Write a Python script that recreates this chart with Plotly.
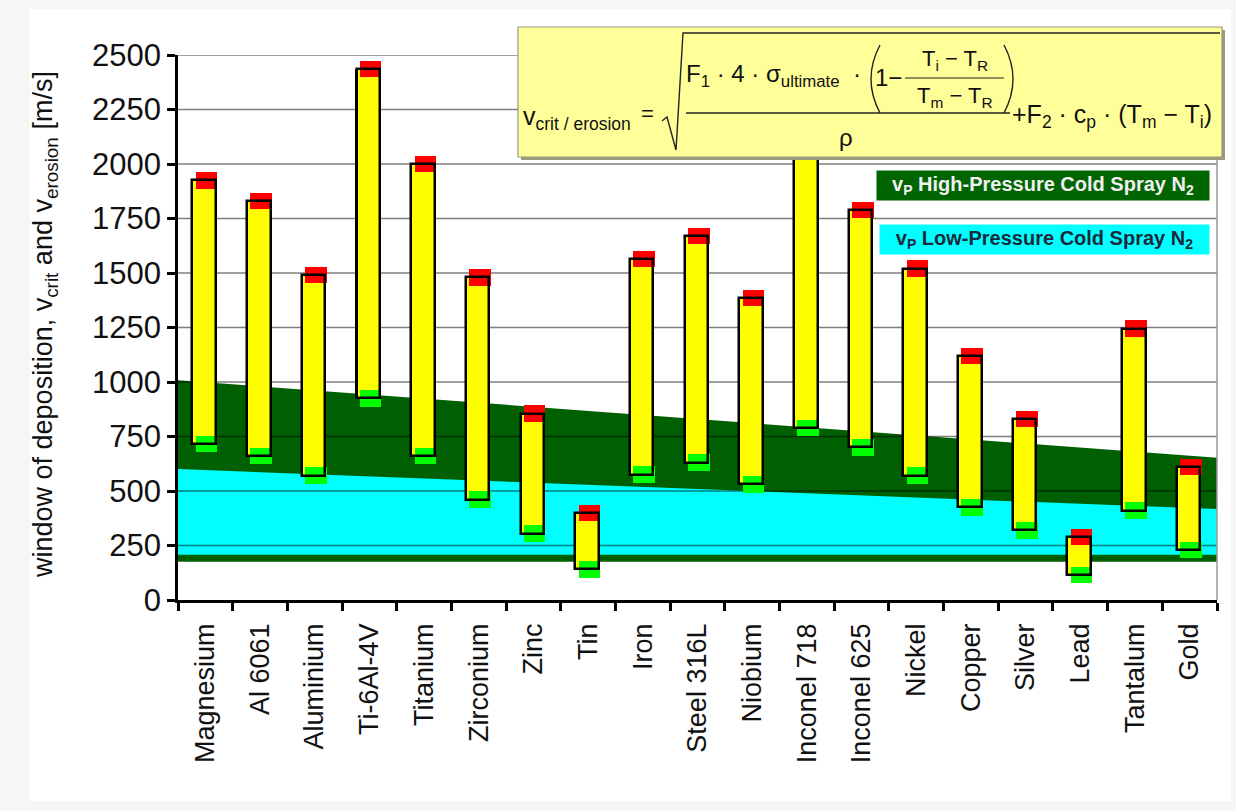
import plotly.graph_objects as go

# ---------------- data ----------------
materials = ["Magnesium", "Al 6061", "Aluminium", "Ti-6Al-4V", "Titanium", "Zirconium",
             "Zinc", "Tin", "Iron", "Steel 316L", "Niobium", "Inconel 718", "Inconel 625",
             "Nickel", "Copper", "Silver", "Lead", "Tantalum", "Gold"]
v_crit = [715, 660, 570, 925, 660, 460, 305, 140, 575, 630, 530, 790, 700, 570, 425, 320, 115, 410, 230]
v_erosion = [1925, 1830, 1490, 2435, 2000, 1480, 855, 400, 1565, 1670, 1385, 2300, 1790, 1520, 1120, 830, 290, 1245, 610]

band_x = [-0.5, 18.5]
hp_low = [176, 176]
hp_high = [1008, 652]
lp_low = [208, 208]
lp_high = [601, 417]

y_ticks = [0, 250, 500, 750, 1000, 1250, 1500, 1750, 2000, 2250, 2500]

# ---------------- geometry helpers ----------------
W, H = 1236, 811
L, R, T, B = 178, 19, 55, 211
PW, PH = W - L - R, H - T - B


def px(x):
    return (x - L) / PW


def py(y):
    return (H - B - y) / PH


FONT = "Arial, 'Liberation Sans', sans-serif"
n = len(materials)
xs = list(range(n))
CAP = 38  # half height of the red/green end markers (m/s)

fig = go.Figure()

# process windows (filled bands) on the base subplot
fig.add_trace(go.Scatter(x=band_x, y=hp_low, mode="lines", line=dict(width=0),
                         showlegend=False, hoverinfo="skip"))
fig.add_trace(go.Scatter(x=band_x, y=hp_high, mode="lines", line=dict(width=0),
                         fill="tonexty", fillcolor="#005f00", showlegend=False, hoverinfo="skip"))
fig.add_trace(go.Scatter(x=band_x, y=lp_low, mode="lines", line=dict(width=0),
                         showlegend=False, hoverinfo="skip"))
fig.add_trace(go.Scatter(x=band_x, y=lp_high, mode="lines", line=dict(width=0),
                         fill="tonexty", fillcolor="#00ffff", showlegend=False, hoverinfo="skip"))

# grid lines over the bands
gx, gy = [], []
for t in y_ticks[1:]:
    gx += [band_x[0], band_x[1], None]
    gy += [t, t, None]
fig.add_trace(go.Scatter(x=gx, y=gy, mode="lines", line=dict(color="rgba(0,0,0,0.5)", width=1.6),
                         showlegend=False, hoverinfo="skip"))

span = [e - c for e, c in zip(v_erosion, v_crit)]

# bars on an overlaid subplot so they sit above the bands
fig.add_trace(go.Bar(x=xs, y=span, base=v_crit, offset=-0.255, width=0.43, xaxis="x2", yaxis="y2",
                     marker=dict(color="black", line=dict(width=0)), showlegend=False, hoverinfo="skip"))
fig.add_trace(go.Bar(x=xs, y=span, base=v_crit, offset=-0.235, width=0.43, xaxis="x2", yaxis="y2",
                     marker=dict(color="#ffff00", line=dict(width=0)), showlegend=False))
fig.add_trace(go.Bar(x=xs, y=[2 * CAP] * n, base=[e - CAP for e in v_erosion], offset=-0.175, width=0.395,
                     xaxis="x2", yaxis="y2",
                     marker=dict(color="#ff0000", line=dict(width=0)), showlegend=False))
fig.add_trace(go.Bar(x=xs, y=[2 * CAP] * n, base=[c - CAP for c in v_crit], offset=-0.175, width=0.395,
                     xaxis="x2", yaxis="y2",
                     marker=dict(color="#00ff00", line=dict(width=0)), showlegend=False))
fig.add_trace(go.Bar(x=xs, y=span, base=v_crit, offset=-0.235, width=0.43, xaxis="x2", yaxis="y2",
                     marker=dict(color="rgba(0,0,0,0)", line=dict(color="black", width=2.5)),
                     showlegend=False, hoverinfo="skip"))

shapes = []
# white panel
shapes.append(dict(type="rect", xref="paper", yref="paper", layer="below",
                   x0=px(30), x1=px(1231), y0=py(801), y1=py(9),
                   fillcolor="white", line=dict(width=0)))
# right border of plot
shapes.append(dict(type="line", xref="paper", yref="paper", x0=1, x1=1, y0=0, y1=1,
                   line=dict(color="#9a9a9a", width=1.5), layer="above"))
# formula box shadow + box
shapes.append(dict(type="rect", xref="paper", yref="paper", layer="above",
                   x0=px(521), x1=px(1225), y0=py(160), y1=py(30),
                   fillcolor="#9a9a80", line=dict(width=0)))
shapes.append(dict(type="rect", xref="paper", yref="paper", layer="above",
                   x0=px(518), x1=px(1222), y0=py(157), y1=py(27),
                   fillcolor="#ffff99", line=dict(color="#9a9a80", width=1.2)))
# radical sign
shapes.append(dict(type="path", xref="paper", yref="paper", layer="above",
                   path=f"M {px(662)},{py(121)} L {px(667)},{py(117)} L {px(676)},{py(150)} "
                        f"L {px(683)},{py(33)} L {px(1220)},{py(33)}",
                   line=dict(color="#222", width=1.4)))
# main fraction bar
shapes.append(dict(type="line", xref="paper", yref="paper", layer="above",
                   x0=px(686), x1=px(1010), y0=py(113), y1=py(113),
                   line=dict(color="#222", width=1.4)))
# inner fraction bar
shapes.append(dict(type="line", xref="paper", yref="paper", layer="above",
                   x0=px(905), x1=px(1004), y0=py(78), y1=py(78),
                   line=dict(color="#222", width=1.2)))
# big parentheses
shapes.append(dict(type="path", xref="paper", yref="paper", layer="above",
                   path=f"M {px(880)},{py(45)} Q {px(862)},{py(79)} {px(880)},{py(113)}",
                   line=dict(color="#222", width=1.4)))
shapes.append(dict(type="path", xref="paper", yref="paper", layer="above",
                   path=f"M {px(1004)},{py(45)} Q {px(1022)},{py(79)} {px(1004)},{py(113)}",
                   line=dict(color="#222", width=1.4)))

ann = []


def A(text, x, y, size=21, xanchor="center", color="#111", **kw):
    ann.append(dict(text=text, x=px(x), y=py(y), xref="paper", yref="paper", showarrow=False,
                    xanchor=xanchor, yanchor="middle", font=dict(family=FONT, size=size, color=color), **kw))


A("v<sub>crit / erosion</sub>", 521, 118, size=25, xanchor="left")
A("=", 647, 114, size=22)
A("F<sub>1</sub> · 4 · σ<sub>ultimate</sub>  ·", 684, 76, size=24, xanchor="left")
A("1−", 888, 78, size=24)
A("T<sub>i</sub> − T<sub>R</sub>", 955, 60, size=22)
A("T<sub>m</sub> − T<sub>R</sub>", 955, 97, size=22)
A("ρ", 846, 137, size=24)
A("+F<sub>2</sub> · c<sub>p</sub> · (T<sub>m</sub> − T<sub>i</sub>)", 1010, 116, size=25, xanchor="left")

# legend boxes
ann.append(dict(text="<b>v<sub>P</sub> High-Pressure Cold Spray N<sub>2</sub></b>",
                x=px(1043), y=py(185), xref="paper", yref="paper", showarrow=False,
                xanchor="center", yanchor="middle", width=330, height=27,
                bgcolor="#006400", font=dict(family=FONT, size=20, color="#f0f0f0")))
ann.append(dict(text="<b>v<sub>P</sub> Low-Pressure Cold Spray N<sub>2</sub></b>",
                x=px(1044.5), y=py(239.5), xref="paper", yref="paper", showarrow=False,
                xanchor="center", yanchor="middle", width=327, height=27,
                bgcolor="#00ffff", font=dict(family=FONT, size=20, color="#1a2a3a")))

# y-axis title
ann.append(dict(text="window of deposition, v<sub>crit</sub> and v<sub>erosion</sub> [m/s]",
                x=px(45), y=py(325), xref="paper", yref="paper", showarrow=False, textangle=-90,
                xanchor="center", yanchor="middle", font=dict(family=FONT, size=27, color="#111")))

fig.update_layout(
    width=W, height=H,
    margin=dict(l=L, r=R, t=T, b=B, pad=0),
    paper_bgcolor="#f5f7f7", plot_bgcolor="white",
    barmode="overlay", bargap=0,
    showlegend=False,
    shapes=shapes, annotations=ann,
    font=dict(family=FONT, color="#111"),
    xaxis=dict(range=[-0.5, 18.5], tickmode="array", tickvals=xs, ticktext=materials,
               tickangle=-90, ticks="", showgrid=False, zeroline=False,
               showline=True, linecolor="black", linewidth=2.5, ticklabelstandoff=10,
               tickfont=dict(family=FONT, size=27, color="#111"),
               minor=dict(tickvals=[i - 0.5 for i in range(n + 1)], ticks="outside", ticklen=8,
                          tickwidth=2.5, tickcolor="black", showgrid=False)),
    yaxis=dict(range=[0, 2500], tickmode="array", tickvals=y_ticks, ticks="outside",
               ticklen=8, tickwidth=2.5, tickcolor="black", showgrid=False, zeroline=False,
               showline=True, linecolor="black", linewidth=2.5,
               tickfont=dict(family=FONT, size=31, color="#111")),
    xaxis2=dict(overlaying="x", range=[-0.5, 18.5], visible=False),
    yaxis2=dict(overlaying="y", range=[0, 2500], visible=False),
)

fig.write_html("out.html", config={"displayModeBar": False},
               post_script="document.body.style.margin='0px';"
                           "document.body.style.background='#f5f7f7';"
                           "document.documentElement.style.overflow='hidden';")
